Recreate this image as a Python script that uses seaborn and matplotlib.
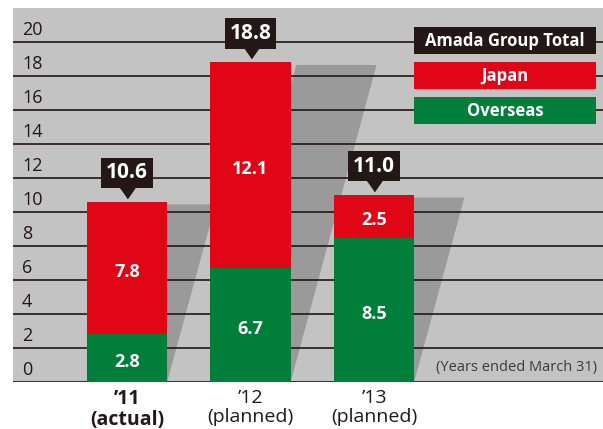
import matplotlib
matplotlib.use("Agg")
import matplotlib.pyplot as plt
import matplotlib.transforms as mtransforms
from matplotlib.patches import Rectangle
import seaborn as sns
import pandas as pd

# ---- data ----
years = ["\u201911\n(actual)", "\u201912\n(planned)", "\u201913\n(planned)"]
japan = [7.8, 12.1, 2.5]
overseas = [2.8, 6.7, 8.5]
totals = [10.6, 18.8, 11.0]
yticks = [0, 2, 4, 6, 8, 10, 12, 14, 16, 18, 20]
legend_names = ["Amada Group Total", "Japan", "Overseas"]
note = "(Years ended March 31)"

RED = "#e00616"
GREEN = "#007e3a"
BLACK = "#231815"
colors = [BLACK, RED, GREEN]

sns.set_style("white")
plt.rcParams["font.family"] = ["Open Sans", "DejaVu Sans"]

df = pd.DataFrame({"year": years, "japan": japan, "overseas": overseas, "total": totals})

fig = plt.figure(figsize=(6.03, 4.29), dpi=100)
ax = fig.add_axes([13 / 603, 47 / 429, 590 / 603, 374 / 429])
ax.set_facecolor("#c3c3c3")

BW = 0.65
# stacked bars: total (red) then overseas (green) on top
sns.barplot(data=df, x="year", y="total", color=RED, saturation=1, width=BW,
            ax=ax, zorder=3, linewidth=0)
sns.barplot(data=df, x="year", y="overseas", color=GREEN, saturation=1, width=BW,
            ax=ax, zorder=3, linewidth=0)

# perspective shadows behind bars
K = 0.037
for i, t in enumerate(df["total"]):
    l, r = i - BW / 2, i + BW / 2
    s = K * t
    top = t - 0.15
    ax.fill([l, r, r + s, l + s], [0, 0, top, top], color="#9a9a9a", lw=0, zorder=1)

ax.set_xlim(-0.923, 3.854)
ax.set_ylim(0, 22)

# gridlines
ax.hlines(yticks, -0.923, 3.854, colors=BLACK, linewidth=1.2, zorder=2)

# y labels above lines
lab_tr = mtransforms.offset_copy(
    mtransforms.blended_transform_factory(ax.transAxes, ax.transData), fig=fig, y=2.5, units="points")
for v in yticks:
    ax.text(9 / 590, v, str(v), transform=lab_tr, ha="left", va="bottom",
            fontsize=13, color=BLACK, zorder=4)
ax.set_yticks([])

# x labels
ax.set_xlabel("")
ax.set_ylabel("")
ax.tick_params(axis="x", length=0, pad=5, labelsize=14, labelcolor=BLACK)
ax.set_xticks(range(len(years)))
ax.set_xticklabels(years, linespacing=1.05)
for k, lab in enumerate(ax.get_xticklabels()):
    if k == 0:
        lab.set_fontweight("bold")
for sp in ax.spines.values():
    sp.set_visible(False)

# segment value labels
val_tr = mtransforms.offset_copy(ax.transData, fig=fig, y=-3, units="points")
for i, (o, j) in enumerate(zip(df["overseas"], df["japan"])):
    ax.text(i, o / 2, f"{o:.1f}", transform=val_tr, ha="center", va="center",
            color="white", fontsize=13, fontweight="bold", zorder=5)
    ax.text(i, o + j / 2, f"{j:.1f}", transform=val_tr, ha="center", va="center",
            color="white", fontsize=13, fontweight="bold", zorder=5)

# total callouts
tri_tr = mtransforms.offset_copy(ax.transData, fig=fig, y=6.5, units="points")
for i, t in enumerate(df["total"]):
    ax.annotate(f"{t:.1f}", xy=(i, t), xytext=(0, 13.3), textcoords="offset points",
                ha="center", va="bottom", color="white", fontsize=15, fontweight="bold",
                bbox=dict(boxstyle="square,pad=0.22", fc=BLACK, ec="none"), zorder=6)
    ax.plot([i], [t], transform=tri_tr, marker=[(-7, 5), (7, 5), (0, -5)], ms=10.5,
            color=BLACK, ls="none", zorder=6)

# legend boxes
rows_y = [0.877, 0.7834, 0.6898]
for name, c, y0 in zip(legend_names, colors, rows_y):
    ax.add_patch(Rectangle((0.6797, y0), 0.3085, 0.0722, transform=ax.transAxes,
                           fc=c, ec="none", zorder=6))
    ax.text(0.6797 + 0.3085 / 2, y0 + 0.0722 / 2, name, transform=ax.transAxes,
            ha="center", va="center", color="white", fontsize=12, fontweight="bold", zorder=7)

ax.text(0.9898, 0.040, note, transform=ax.transAxes, ha="right", va="center",
        fontsize=10.5, color="#3e3a39", zorder=4)

fig.savefig("out.png", dpi=100)
